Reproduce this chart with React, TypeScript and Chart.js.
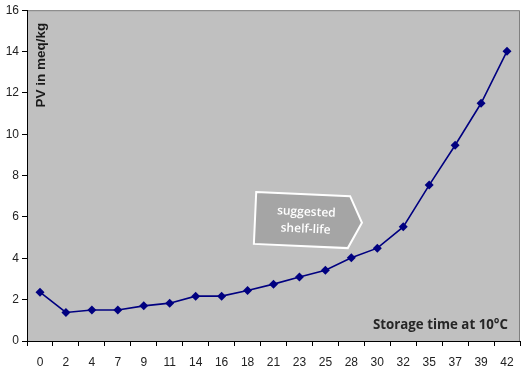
import React, { useEffect, useRef } from "react";
import { Chart, registerables } from "chart.js";

Chart.register(...registerables);

const categories = ["0", "2", "4", "7", "9", "11", "14", "16", "18", "21", "23", "25", "28", "30", "32", "35", "37", "39", "42"];
const pvValues = [2.36, 1.38, 1.5, 1.5, 1.7, 1.83, 2.17, 2.17, 2.44, 2.75, 3.1, 3.42, 4.03, 4.49, 5.52, 7.54, 9.47, 11.5, 14.02];
const yTicks = [0, 2, 4, 6, 8, 10, 12, 14, 16];
const yTitle = "PV in meq/kg";
const xTitle = "Storage time at 10°C";
const arrowLines = ["suggested", "shelf-life"];

const decorPlugin = {
  id: "decor",
  beforeDraw(chart: any) {
    const { ctx, chartArea: a } = chart;
    ctx.save();
    ctx.fillStyle = "#c0c0c0";
    ctx.fillRect(a.left, a.top, a.right - a.left, a.bottom - a.top);
    ctx.strokeStyle = "#808080";
    ctx.lineWidth = 1;
    ctx.beginPath();
    ctx.moveTo(a.left, a.top + 0.5);
    ctx.lineTo(a.right - 0.5, a.top + 0.5);
    ctx.lineTo(a.right - 0.5, a.bottom);
    ctx.stroke();
    ctx.restore();
  },
  afterDraw(chart: any) {
    const { ctx, chartArea: a } = chart;
    ctx.save();
    // y title inside plot
    ctx.translate(a.left + 14, a.top + 55);
    ctx.rotate(-Math.PI / 2);
    ctx.fillStyle = "#1a1a1a";
    ctx.font = "bold 13.5px 'Liberation Sans', Arial, sans-serif";
    ctx.textAlign = "center";
    ctx.textBaseline = "middle";
    ctx.fillText(yTitle, 0, 0);
    ctx.restore();

    // x title inside plot bottom right
    ctx.save();
    ctx.fillStyle = "#262626";
    ctx.font = "bold 13.3px 'Open Sans', sans-serif";
    ctx.textAlign = "right";
    ctx.textBaseline = "middle";
    ctx.fillText(xTitle, a.right - 12, a.bottom - 16);
    ctx.restore();

    // arrow shape
    ctx.save();
    ctx.translate(a.left + 279, a.top + 210);
    ctx.rotate(0.045);
    ctx.beginPath();
    ctx.moveTo(-51, -26);
    ctx.lineTo(43, -26);
    ctx.lineTo(56, 0);
    ctx.lineTo(43, 26);
    ctx.lineTo(-51, 26);
    ctx.closePath();
    ctx.fillStyle = "#a5a5a5";
    ctx.fill();
    ctx.strokeStyle = "#ffffff";
    ctx.lineWidth = 2;
    ctx.stroke();
    ctx.fillStyle = "#ffffff";
    ctx.font = "600 12px 'Open Sans', sans-serif";
    ctx.textAlign = "center";
    ctx.textBaseline = "middle";
    ctx.fillText(arrowLines[0], 0, -8);
    ctx.fillText(arrowLines[1], 0, 9);
    ctx.restore();
  },
};

export default function App() {
  const ref = useRef<HTMLCanvasElement>(null);
  useEffect(() => {
    const chart = new Chart(ref.current!, {
      type: "line",
      data: {
        labels: categories,
        datasets: [
          {
            data: pvValues,
            borderColor: "#000080",
            backgroundColor: "#000080",
            borderWidth: 1.6,
            pointStyle: "rectRot",
            pointRadius: 4.5,
            pointBorderWidth: 0,
            pointBackgroundColor: "#000080",
            tension: 0,
          },
        ],
      },
      options: {
        animation: false,
        responsive: true,
        maintainAspectRatio: false,
        layout: { padding: { left: 0, top: 10, right: 8, bottom: 0 } },
        plugins: { legend: { display: false }, tooltip: { enabled: false } },
        scales: {
          x: {
            type: "category",
            offset: true,
            grid: { display: true, offset: true, drawOnChartArea: false, drawTicks: true, tickLength: 5, color: "#000" },
            border: { display: true, color: "#000", width: 1 },
            ticks: { color: "#222", font: { family: "'Liberation Sans', Arial, sans-serif", size: 12 }, padding: 9, maxRotation: 0, autoSkip: false },
            afterFit(scale: any) {
              scale.height = 34;
            },
          },
          y: {
            min: 0,
            max: 16,
            afterBuildTicks(scale: any) {
              scale.ticks = yTicks.map((v) => ({ value: v }));
            },
            grid: { display: true, drawOnChartArea: false, drawTicks: true, tickLength: 5, color: "#000" },
            border: { display: true, color: "#000", width: 1 },
            ticks: { color: "#222", font: { family: "'Liberation Sans', Arial, sans-serif", size: 12 }, padding: 3 },
            afterFit(scale: any) {
              scale.width = 27;
            },
          },
        },
      },
      plugins: [decorPlugin],
    } as any);
    return () => chart.destroy();
  }, []);
  return (
    <div style={{ position: "fixed", left: 0, top: 0, width: 528, height: 375, background: "#fff" }}>
      <canvas ref={ref} />
    </div>
  );
}
